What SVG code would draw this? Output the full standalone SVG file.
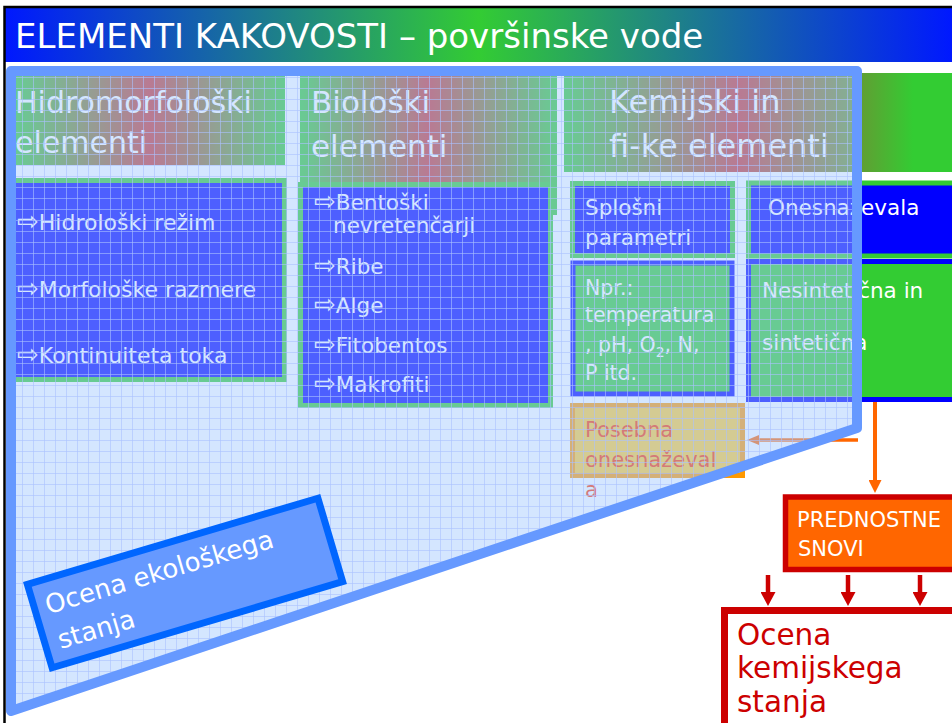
<svg xmlns="http://www.w3.org/2000/svg" width="952" height="723" viewBox="0 0 952 723">
<defs>
  <style>
    text { font-family: "DejaVu Sans", Verdana, sans-serif; }
    .w { fill: #ffffff; }
    .hdr { font-size: 31px; }
    .li { font-size: 22px; }
    .bx { font-size: 21.5px; }
    .ar { font-size: 26px; }
    .blueBox { fill: #0000ff; stroke: #33cc33; stroke-width: 5; }
    .greenBox { fill: #33cc33; stroke: #0000ff; stroke-width: 5; }
  </style>
  <linearGradient id="gTitle" x1="0" y1="0" x2="1" y2="0">
    <stop offset="0" stop-color="#0018ff"/>
    <stop offset="0.5" stop-color="#33cc33"/>
    <stop offset="1" stop-color="#0018ff"/>
  </linearGradient>
  <linearGradient id="gHdr" x1="0" y1="0" x2="1" y2="0">
    <stop offset="0" stop-color="#33cc33"/>
    <stop offset="0.5" stop-color="#cc3333"/>
    <stop offset="1" stop-color="#33cc33"/>
  </linearGradient>
  <linearGradient id="gKem" gradientUnits="userSpaceOnUse" x1="564" y1="0" x2="952" y2="0">
    <stop offset="0" stop-color="#33cc33"/>
    <stop offset="0.45" stop-color="#cc3333"/>
    <stop offset="0.9" stop-color="#33cc33"/>
  </linearGradient>
  <pattern id="grid" patternUnits="userSpaceOnUse" width="11" height="11">
    <rect width="11" height="11" fill="#a3caff" fill-opacity="0.47"/>
    <path d="M0,0.5H11M0.5,0V11" stroke="#aac2ff" stroke-opacity="0.6" stroke-width="1" fill="none"/>
  </pattern>
  <marker id="ahOrange" viewBox="0 0 13 13" refX="2" refY="6.5" markerWidth="13" markerHeight="13" markerUnits="userSpaceOnUse" orient="auto">
    <path d="M0,0 L13,6.5 L0,13 z" fill="#ff6600"/>
  </marker>
  <marker id="ahOrangeS" viewBox="0 0 12 10" refX="2" refY="5" markerWidth="12" markerHeight="10" markerUnits="userSpaceOnUse" orient="auto">
    <path d="M0,0 L12,5 L0,10 z" fill="#ff6600"/>
  </marker>
  <marker id="ahRed" viewBox="0 0 14 15" refX="2" refY="7.5" markerWidth="14" markerHeight="15" markerUnits="userSpaceOnUse" orient="auto">
    <path d="M0,0 L14,7.5 L0,15 z" fill="#cc0000"/>
  </marker>
</defs>

<rect width="952" height="723" fill="#ffffff"/>

<g id="title">
  <rect x="5" y="8" width="947" height="54" fill="url(#gTitle)"/>
  <path d="M4.5,723 V7 H952" fill="none" stroke="#000000" stroke-width="2.5"/>
  <text x="15" y="48" class="w" font-size="34">ELEMENTI KAKOVOSTI – površinske vode</text>
</g>

<g id="hidro-header">
  <rect x="15" y="74" width="270" height="91" fill="url(#gHdr)"/>
  <text class="w" font-size="30" x="15" y="113">Hidromorfološki</text>
  <text class="w" font-size="30" x="15" y="153">elementi</text>
</g>

<g id="bio-header">
  <rect x="300" y="74" width="257" height="141" fill="url(#gHdr)"/>
  <text class="w hdr" x="311" y="113">Biološki</text>
  <text class="w hdr" x="311" y="157">elementi</text>
</g>

<g id="kem-header">
  <rect x="564" y="73" width="388" height="99" fill="url(#gKem)"/>
  <text class="w" font-size="32" x="609" y="113">Kemijski in</text>
  <text class="w" font-size="32" x="609" y="157">fi-ke elementi</text>
</g>

<g id="hidro-list">
  <rect x="12.5" y="180.5" width="272" height="199" class="blueBox"/>
  <text class="w li" x="17" y="230"><tspan class="ar">⇨</tspan>Hidrološki režim</text>
  <text class="w li" x="17" y="297"><tspan class="ar">⇨</tspan>Morfološke razmere</text>
  <text class="w li" x="17" y="363"><tspan class="ar">⇨</tspan>Kontinuiteta toka</text>
</g>

<g id="bio-list">
  <rect x="300.5" y="184.5" width="250" height="221" class="blueBox"/>
  <text class="w" font-size="21.5" x="314" y="210"><tspan class="ar" font-size="24">⇨</tspan>Bentoški</text>
  <text class="w" font-size="21.5" x="333" y="233">nevretenčarji</text>
  <text class="w" font-size="21.5" x="314" y="274"><tspan class="ar" font-size="24">⇨</tspan>Ribe</text>
  <text class="w" font-size="21.5" x="314" y="313"><tspan class="ar" font-size="24">⇨</tspan>Alge</text>
  <text class="w" font-size="21.5" x="314" y="353"><tspan class="ar" font-size="24">⇨</tspan>Fitobentos</text>
  <text class="w" font-size="21.5" x="314" y="392"><tspan class="ar" font-size="24">⇨</tspan>Makrofiti</text>
</g>

<g id="splosni">
  <rect x="572.5" y="183.5" width="160" height="72" class="blueBox"/>
  <text class="w bx" x="585" y="215">Splošni</text>
  <text class="w bx" x="585" y="245">parametri</text>
</g>

<g id="npr">
  <rect x="573" y="263" width="159" height="131" class="greenBox" stroke-width="6"/>
  <text class="w" font-size="20.5" x="585" y="295">Npr.:</text>
  <text class="w" font-size="20.5" x="585" y="322">temperatura</text>
  <text class="w" font-size="20.5" x="585" y="352">, pH, O<tspan font-size="14" dy="5">2</tspan><tspan dy="-5">, N,</tspan></text>
  <text class="w" font-size="20.5" x="585" y="380">P itd.</text>
</g>

<g id="onesnazevala">
  <rect x="748.5" y="183" width="260" height="73" class="blueBox"/>
  <text class="w bx" x="768" y="215">Onesnaževala</text>
</g>

<g id="nesinteticna">
  <rect x="748.5" y="261.5" width="260" height="138" class="greenBox"/>
  <text class="w bx" x="762" y="298">Nesintetična in</text>
  <text class="w bx" x="762" y="350">sintetična</text>
</g>

<g id="posebna">
  <rect x="572.5" y="405.5" width="170" height="70" fill="#ffcc33" stroke="#ff9900" stroke-width="5"/>
  <text font-size="21" fill="#ff3300" x="585" y="437">Posebna</text>
  <text font-size="21" fill="#ff3300" x="585" y="467">onesnaževal</text>
  <text font-size="21" fill="#ff3300" x="585" y="497">a</text>
</g>

<g id="connectors">
  <line x1="858" y1="440" x2="757" y2="440" stroke="#ff6600" stroke-width="3.5" marker-end="url(#ahOrangeS)"/>
  <line x1="875" y1="402" x2="875" y2="482" stroke="#ff6600" stroke-width="4" marker-end="url(#ahOrange)"/>
  <line x1="768" y1="575" x2="768" y2="594" stroke="#cc0000" stroke-width="4.5" marker-end="url(#ahRed)"/>
  <line x1="848" y1="575" x2="848" y2="594" stroke="#cc0000" stroke-width="4.5" marker-end="url(#ahRed)"/>
  <line x1="920" y1="575" x2="920" y2="594" stroke="#cc0000" stroke-width="4.5" marker-end="url(#ahRed)"/>
</g>

<g id="overlay">
  <polygon points="11,71 857,71 857,428 11,711" fill="url(#grid)" stroke="#6699ff" stroke-width="10" stroke-linejoin="round"/>
</g>

<g id="ocena-ekoloskega" transform="translate(185,583) rotate(-16.5)">
  <rect x="-151.5" y="-43.5" width="303" height="87" fill="#6699ff" stroke="#0066ff" stroke-width="7"/>
  <text class="w" font-size="26" x="-140" y="-9">Ocena ekološkega</text>
  <text class="w" font-size="26" x="-138" y="28">stanja</text>
</g>

<g id="prednostne-snovi">
  <rect x="785.5" y="497" width="180" height="72.5" fill="#ff6600" stroke="#cc0000" stroke-width="5.5"/>
  <text class="w" font-size="21" x="797" y="527">PREDNOSTNE</text>
  <text class="w" font-size="21" x="798" y="556">SNOVI</text>
</g>

<g id="ocena-kemijskega">
  <rect x="724.5" y="610.5" width="240" height="120" fill="#ffffff" stroke="#cc0000" stroke-width="7"/>
  <text font-size="29.5" fill="#cc0000" x="737" y="645">Ocena</text>
  <text font-size="29.5" fill="#cc0000" x="737" y="678">kemijskega</text>
  <text font-size="29.5" fill="#cc0000" x="737" y="712">stanja</text>
</g>
</svg>
